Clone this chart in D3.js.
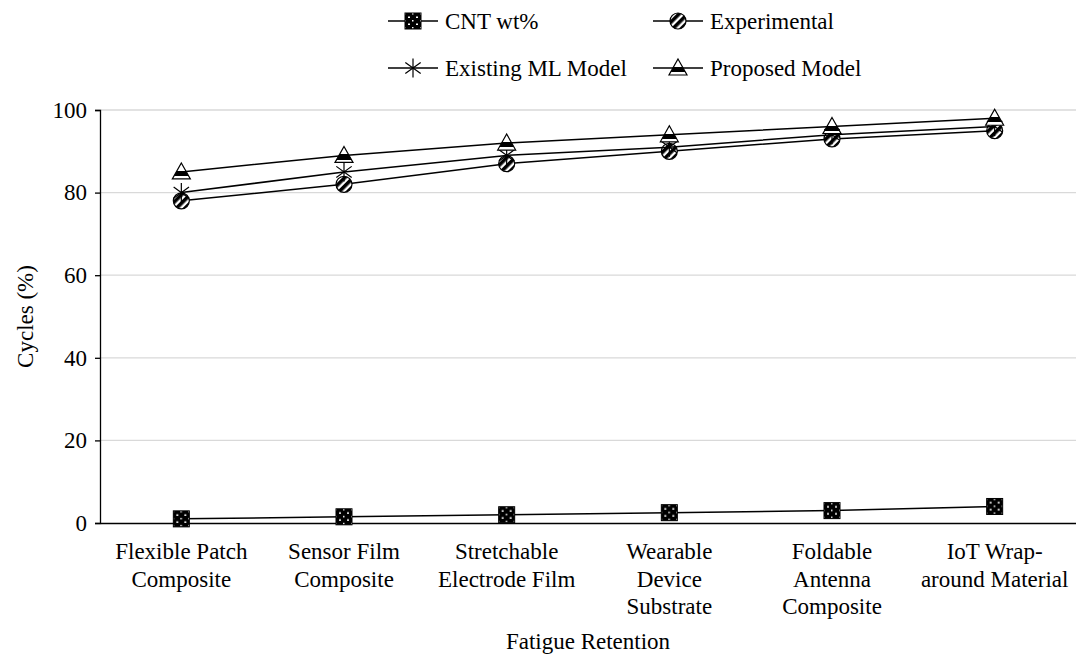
<!DOCTYPE html>
<html>
<head>
<meta charset="utf-8">
<script src="https://cdn.jsdelivr.net/npm/d3@7"></script>
<style>
  html, body { margin: 0; padding: 0; background: #fff; }
  svg { display: block; font-family: "Liberation Serif", "Times New Roman", serif; }
</style>
</head>
<body>
<svg id="chart" width="1076" height="666"></svg>
<script>
// Materials on the category axis (line breaks as drawn)
const categories = [
  "Flexible Patch|Composite",
  "Sensor Film|Composite",
  "Stretchable|Electrode Film",
  "Wearable|Device|Substrate",
  "Foldable|Antenna|Composite",
  "IoT Wrap-|around Material"
];
const cntWt = [1, 1.5, 2, 2.5, 3, 4];
const experimental = [78, 82, 87, 90, 93, 95];
const existingML = [80, 85, 89, 91, 94, 96];
const proposed = [85, 89, 92, 94, 96, 98];
const yTicks = [0, 20, 40, 60, 80, 100];

const seriesNames = ["CNT wt%", "Experimental", "Existing ML Model", "Proposed Model"];
const seriesValues = [cntWt, experimental, existingML, proposed];
const seriesMarkers = ["square", "circle", "star", "triangle"];

const FS = 23;
const svg = d3.select("#chart");
const margin = { left: 100, right: 0, top: 110, bottom: 143 };
const W = 1076, H = 666;

const x = d3.scaleBand().domain(categories).range([margin.left, W - margin.right]);
const y = d3.scaleLinear().domain([0, 100]).range([H - margin.bottom, margin.top]);

// Fill patterns for the markers
const defs = svg.append("defs");
const dots = defs.append("pattern").attr("id", "dots").attr("patternUnits", "userSpaceOnUse")
  .attr("width", 8).attr("height", 7).attr("x", 1).attr("y", 1);
dots.append("rect").attr("width", 8).attr("height", 7).attr("fill", "#000");
dots.append("rect").attr("x", 2).attr("y", 1.5).attr("width", 2).attr("height", 1.5).attr("fill", "#fff");
dots.append("rect").attr("x", 6).attr("y", 5).attr("width", 1.5).attr("height", 1.5).attr("fill", "#fff");

const diag = defs.append("pattern").attr("id", "diag").attr("patternUnits", "userSpaceOnUse")
  .attr("width", 6).attr("height", 6).attr("patternTransform", "rotate(-45)");
diag.append("rect").attr("width", 6).attr("height", 6).attr("fill", "#fff");
diag.append("rect").attr("width", 6).attr("height", 3.6).attr("fill", "#000");

// Banded fill for the triangle: white tip, black band, thin white base
const band = defs.append("linearGradient").attr("id", "band")
  .attr("x1", 0).attr("y1", 0).attr("x2", 0).attr("y2", 1);
[[0, "#fff"], [0.5, "#fff"], [0.5, "#000"], [0.82, "#000"], [0.82, "#fff"], [1, "#fff"]]
  .forEach(([o, c]) => band.append("stop").attr("offset", o).attr("stop-color", c));

// Gridlines
svg.append("g").selectAll("line").data(yTicks.filter(d => d > 0)).join("line")
  .attr("x1", margin.left).attr("x2", W - margin.right)
  .attr("y1", d => y(d)).attr("y2", d => y(d))
  .attr("stroke", "#d9d9d9").attr("stroke-width", 1.3);

// Y axis
const yAxis = svg.append("g").attr("transform", `translate(${margin.left},0)`)
  .call(d3.axisLeft(y).tickValues(yTicks).tickSize(5).tickPadding(8));
yAxis.select(".domain").attr("stroke", "#000").attr("stroke-width", 1.3);
yAxis.selectAll(".tick line").attr("stroke", "#000").attr("stroke-width", 1.3);
yAxis.selectAll("text").attr("font-size", FS).attr("fill", "#000")
  .attr("font-family", "Liberation Serif, serif");

// X axis (baseline only, multi-line labels)
const xAxis = svg.append("g").attr("transform", `translate(0,${y(0)})`)
  .call(d3.axisBottom(x).tickSize(0).tickFormat(""));
xAxis.select(".domain").attr("stroke", "#000").attr("stroke-width", 1.3);
xAxis.selectAll(".tick").each(function (d) {
  const t = d3.select(this).append("text").attr("fill", "#000")
    .attr("font-size", FS).attr("text-anchor", "middle")
    .attr("font-family", "Liberation Serif, serif");
  d.split("|").forEach((ln, i) => {
    t.append("tspan").attr("x", 0).attr("y", 36 + i * 27.5).text(ln);
  });
});

// Axis titles
svg.append("text").attr("x", (margin.left + W - margin.right) / 2).attr("y", 649)
  .attr("text-anchor", "middle").attr("font-size", FS).text("Fatigue Retention");
svg.append("text")
  .attr("transform", `translate(33,${(y(0) + y(100)) / 2}) rotate(-90)`)
  .attr("text-anchor", "middle").attr("font-size", FS).text("Cycles (%)");

// Marker drawing
function drawMarker(g, type) {
  if (type === "square") {
    g.append("rect").attr("x", -8).attr("y", -8).attr("width", 16).attr("height", 16)
      .attr("fill", "url(#dots)").attr("stroke", "#000").attr("stroke-width", 1);
  } else if (type === "circle") {
    g.append("circle").attr("r", 8).attr("fill", "url(#diag)")
      .attr("stroke", "#000").attr("stroke-width", 1.2);
  } else if (type === "star") {
    const r = 9.5;
    const p = d3.path();
    p.moveTo(0, -r); p.lineTo(0, r);
    const a = r * Math.cos(Math.PI / 5), b = r * Math.sin(Math.PI / 5);
    p.moveTo(-a, -b); p.lineTo(a, b);
    p.moveTo(-a, b); p.lineTo(a, -b);
    g.append("path").attr("d", p.toString()).attr("stroke", "#000").attr("stroke-width", 1.2).attr("fill", "none");
  } else if (type === "triangle") {
    g.append("path").attr("d", "M0,-9L9,7L-9,7Z").attr("fill", "url(#band)")
      .attr("stroke", "#000").attr("stroke-width", 1.2);
  }
}

// Series lines and markers
const line = d3.line().x((d, i) => x(categories[i]) + x.bandwidth() / 2).y(d => y(d));
seriesValues.forEach((vals, si) => {
  const g = svg.append("g").attr("class", "series");
  g.append("path").attr("d", line(vals)).attr("fill", "none")
    .attr("stroke", "#000").attr("stroke-width", 1.5);
  vals.forEach((v, i) => {
    const mg = g.append("g")
      .attr("transform", `translate(${x(categories[i]) + x.bandwidth() / 2},${y(v)})`);
    drawMarker(mg, seriesMarkers[si]);
  });
});

// Legend (two rows, two columns)
const legendPos = [[388, 21], [653, 21], [388, 68], [653, 68]];
seriesNames.forEach((name, i) => {
  const [lx, ly] = legendPos[i];
  const lg = svg.append("g").attr("transform", `translate(${lx},${ly})`);
  lg.append("line").attr("x1", 0).attr("x2", 50).attr("y1", 0).attr("y2", 0)
    .attr("stroke", "#000").attr("stroke-width", 1.5);
  drawMarker(lg.append("g").attr("transform", "translate(25,0)"), seriesMarkers[i]);
  lg.append("text").attr("x", 57).attr("y", 8).attr("font-size", FS).text(name);
});
</script>
</body>
</html>
